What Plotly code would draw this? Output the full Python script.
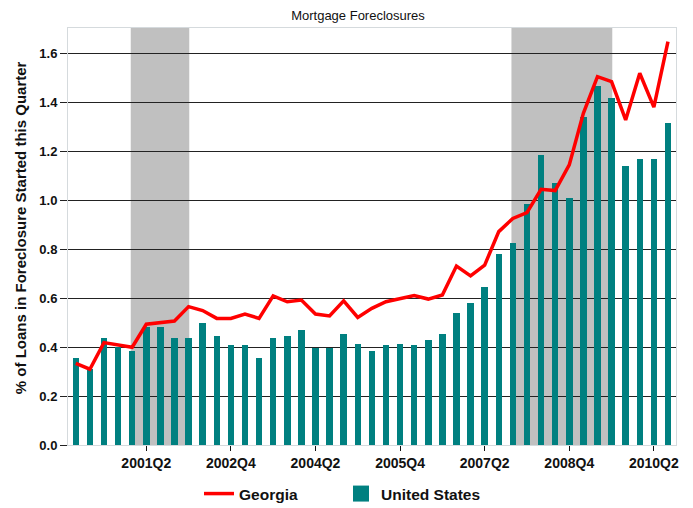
import plotly.graph_objects as go

# Quarterly observations, 2000Q1 through 2010Q3
quarters = [f"{y}Q{q}" for y in range(2000, 2011) for q in range(1, 5)][:43]

georgia = [0.334, 0.31, 0.419, 0.409, 0.40, 0.494, 0.50, 0.507, 0.566, 0.55,
           0.518, 0.518, 0.536, 0.518, 0.61, 0.586, 0.593, 0.536, 0.528, 0.59,
           0.522, 0.559, 0.586, 0.60, 0.611, 0.597, 0.614, 0.732, 0.692, 0.736,
           0.873, 0.927, 0.951, 1.046, 1.041, 1.146, 1.357, 1.507, 1.487, 1.33,
           1.521, 1.382, 1.65]

united_states = [0.357, 0.31, 0.439, 0.402, 0.386, 0.482, 0.482, 0.439, 0.439, 0.499,
                 0.446, 0.41, 0.41, 0.357, 0.439, 0.445, 0.469, 0.398, 0.398, 0.455,
                 0.414, 0.386, 0.409, 0.414, 0.409, 0.428, 0.455, 0.54, 0.58, 0.645,
                 0.781, 0.828, 0.986, 1.187, 1.071, 1.012, 1.341, 1.469, 1.418, 1.142,
                 1.17, 1.17, 1.316]

tick_labels = ["2001Q2", "2002Q4", "2004Q2", "2005Q4", "2007Q2", "2008Q4", "2010Q2"]

# Recession periods (first and last quarter shaded)
recessions = [("2001Q1", "2002Q1"), ("2007Q4", "2009Q3")]

x = list(range(len(quarters)))
tick_pos = [quarters.index(t) for t in tick_labels]

TEAL = "#008080"
FONT = "Liberation Sans Narrow, Arial Narrow, Liberation Sans, Arial, sans-serif"

fig = go.Figure()
fig.add_trace(go.Bar(
    x=x, y=united_states, name="United States", legendgroup="us",
    showlegend=False,
    marker=dict(color=TEAL, line=dict(width=0)),
    width=0.46,
))
fig.add_trace(go.Scatter(
    x=x, y=georgia, name="Georgia", mode="lines",
    line=dict(color="#ff0000", width=3.5),
))
# larger square swatch for the bar series in the legend
fig.add_trace(go.Scatter(
    x=[None], y=[None], name="United States", legendgroup="us",
    mode="markers", marker=dict(symbol="square", size=16, color=TEAL),
))

for start, end in recessions:
    fig.add_shape(
        type="rect", xref="x", yref="paper",
        x0=quarters.index(start) - 0.1, x1=quarters.index(end) + 0.05,
        y0=0, y1=1, fillcolor="#c0c0c0", line=dict(width=0), layer="below",
    )

# y-axis title as a rotated annotation
fig.add_annotation(
    text="% of Loans in Foreclosure Started this Quarter",
    xref="paper", yref="paper", x=-48 / 608, y=0.52,
    xanchor="center", yanchor="middle", textangle=-90, showarrow=False,
    font=dict(family=FONT, size=15, color="#111111", weight="bold"),
)

fig.update_layout(
    width=693, height=508,
    margin=dict(l=68, r=17, t=28, b=63, autoexpand=False),
    paper_bgcolor="white", plot_bgcolor="white",
    title=dict(text="Mortgage Foreclosures", x=358 / 693, xanchor="center",
               y=1 - 15 / 508, yanchor="middle",
               font=dict(family=FONT, size=13, color="#111111")),
    font=dict(family=FONT, color="#111111"),
    showlegend=True,
    legend=dict(orientation="h", x=0.2155, xanchor="left", y=-0.1175, yanchor="middle",
                font=dict(family=FONT, size=15.5, color="#111111", weight="bold"),
                entrywidth=97, entrywidthmode="pixels",
                bgcolor="rgba(0,0,0,0)"),
    bargap=0,
)

fig.update_xaxes(
    range=[-0.55, 42.57],
    tickmode="array", tickvals=tick_pos, ticktext=tick_labels,
    ticks="outside", ticklen=5, tickwidth=1.2, tickcolor="#111111",
    tickfont=dict(family=FONT, size=14, color="#111111", weight="bold"),
    showgrid=False, zeroline=False,
    showline=True, linecolor="#d5dadd", linewidth=1, mirror=True,
)
fig.update_yaxes(
    range=[0, 1.706],
    tickmode="array", tickvals=[0, 0.2, 0.4, 0.6, 0.8, 1.0, 1.2, 1.4, 1.6],
    tickformat=".1f",
    ticks="outside", ticklen=7, tickwidth=1.3, tickcolor="#222222",
    tickfont=dict(family=FONT, size=13, color="#111111", weight="bold"),
    showgrid=True, gridcolor="#222222", gridwidth=1.3,
    zeroline=False,
    showline=True, linecolor="#d5dadd", linewidth=1, mirror=True,
)

fig.write_html("out.html")
